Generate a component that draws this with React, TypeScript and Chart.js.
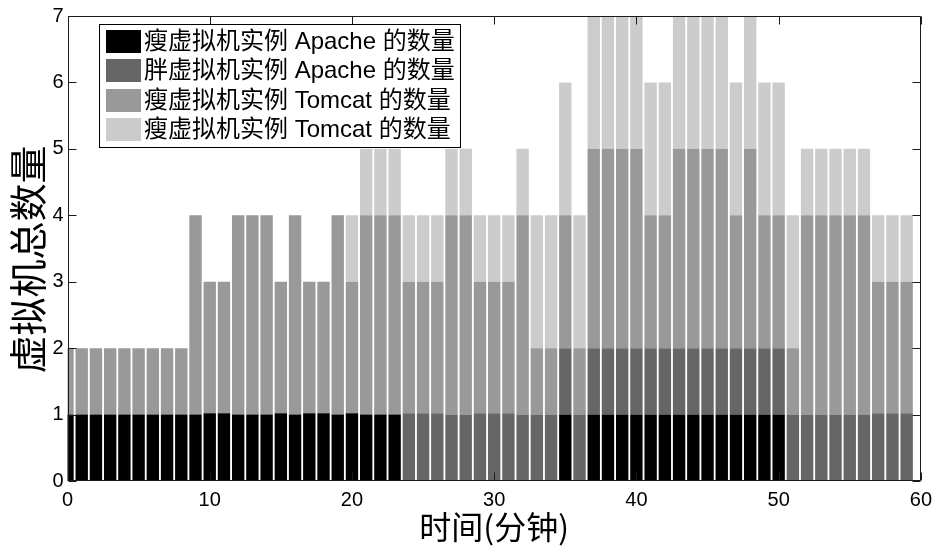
import React, { useEffect, useRef } from "react";
import { Chart, registerables } from "chart.js";

Chart.register(...registerables);

// ---- data ----
const minutes = [
  0, 1, 2, 3, 4, 5, 6, 7, 8, 9,
  10, 11, 12, 13, 14, 15, 16, 17, 18, 19,
  20, 21, 22, 23, 24, 25, 26, 27, 28, 29,
  30, 31, 32, 33, 34, 35, 36, 37, 38, 39,
  40, 41, 42, 43, 44, 45, 46, 47, 48, 49,
  50, 51, 52, 53, 54, 55, 56, 57, 58, 59,
];

// 瘦虚拟机实例 Apache (black)
const thinApache = [
  1, 1, 1, 1, 1, 1, 1, 1, 1, 1,
  1.02, 1.02, 1, 1, 1, 1.02, 1, 1.02, 1.02, 1,
  1.02, 1, 1, 1, 0, 0, 0, 0, 0, 0,
  0, 0, 0, 0, 0, 1, 0, 1, 1, 1,
  1, 1, 1, 1, 1, 1, 1, 1, 1, 1,
  1, 0, 0, 0, 0, 0, 0, 0, 0, 0,
];

// 胖虚拟机实例 Apache (dark gray)
const fatApache = [
  0, 0, 0, 0, 0, 0, 0, 0, 0, 0,
  0, 0, 0, 0, 0, 0, 0, 0, 0, 0,
  0, 0, 0, 0, 1.02, 1.02, 1.02, 1, 1, 1.02,
  1.02, 1.02, 1, 1, 1, 1, 1, 1, 1, 1,
  1, 1, 1, 1, 1, 1, 1, 1, 1, 1,
  1, 1, 1, 1, 1, 1, 1, 1.02, 1.02, 1.02,
];

// 瘦虚拟机实例 Tomcat (medium gray)
const thinTomcat = [
  1, 1, 1, 1, 1, 1, 1, 1, 1, 3,
  1.98, 1.98, 3, 3, 3, 1.98, 3, 1.98, 1.98, 3,
  1.98, 3, 3, 3, 1.98, 1.98, 1.98, 3, 3, 1.98,
  1.98, 1.98, 3, 1, 1, 2, 1, 3, 3, 3,
  3, 2, 2, 3, 3, 3, 3, 2, 3, 2,
  2, 1, 3, 3, 3, 3, 3, 1.98, 1.98, 1.98,
];

// 瘦虚拟机实例 Tomcat (light gray)
const thinTomcatB = [
  0, 0, 0, 0, 0, 0, 0, 0, 0, 0,
  0, 0, 0, 0, 0, 0, 0, 0, 0, 0,
  1, 1, 1, 1, 1, 1, 1, 1, 1, 1,
  1, 1, 1, 2, 2, 2, 2, 2, 2, 2,
  2, 2, 2, 2, 2, 2, 2, 2, 2, 2,
  2, 2, 1, 1, 1, 1, 1, 1, 1, 1,
];

const seriesLabels = [
  "瘦虚拟机实例 Apache 的数量",
  "胖虚拟机实例 Apache 的数量",
  "瘦虚拟机实例 Tomcat 的数量",
  "瘦虚拟机实例 Tomcat 的数量",
];
const seriesColors = ["#000000", "#666666", "#999999", "#cccccc"];
const seriesValues = [thinApache, fatApache, thinTomcat, thinTomcatB];

const xTicks = [0, 10, 20, 30, 40, 50, 60];
const yTicks = [0, 1, 2, 3, 4, 5, 6, 7];
const xTitle = "时间(分钟)";
const yTitle = "虚拟机总数量";

const TICK_FONT = "'Liberation Sans', Arial, sans-serif";
const CJK_FONT = "'Noto Sans CJK SC', sans-serif";
const LEGEND_FONT = "24px 'Liberation Sans', 'Noto Sans CJK SC', sans-serif";
const Y_TITLE_FONT = "38px 'Noto Sans CJK SC', sans-serif";

const framePlugin = {
  id: "frameAndLegend",
  afterDatasetsDraw(chart: any) {
    const { ctx, chartArea: a, scales } = chart;
    ctx.save();
    // axes box
    ctx.strokeStyle = "#1a1a1a";
    ctx.lineWidth = 1;
    const l = Math.round(a.left) + 0.5;
    const r = Math.round(a.right) - 0.5;
    const t = Math.round(a.top) + 0.5;
    const b = Math.round(a.bottom) - 0.5;
    ctx.beginPath();
    ctx.moveTo(l, t);
    ctx.lineTo(r, t);
    ctx.lineTo(r, b);
    ctx.lineTo(l, b);
    ctx.closePath();
    ctx.stroke();
    // inward ticks
    const L = 8;
    ctx.beginPath();
    for (const v of yTicks) {
      const y = Math.round(scales.y.getPixelForValue(v)) + 0.5;
      ctx.moveTo(l, y);
      ctx.lineTo(l + L, y);
      ctx.moveTo(r, y);
      ctx.lineTo(r - L, y);
    }
    for (const v of xTicks) {
      const x = Math.round(scales.x.getPixelForValue(v)) + 0.5;
      ctx.moveTo(x, b);
      ctx.lineTo(x, b - L);
      ctx.moveTo(x, t);
      ctx.lineTo(x, t + L);
    }
    ctx.stroke();

    // legend box
    const lx = Math.round(a.left + 31) + 0.5;
    const ly = Math.round(a.top + 8) + 0.5;
    const lw = 361;
    const lh = 123;
    ctx.fillStyle = "#ffffff";
    ctx.fillRect(lx, ly, lw, lh);
    ctx.strokeStyle = "#000000";
    ctx.strokeRect(lx, ly, lw, lh);
    ctx.font = LEGEND_FONT;
    ctx.textBaseline = "middle";
    ctx.textAlign = "left";
    const rowH = 29.6;
    for (let i = 0; i < seriesLabels.length; i++) {
      const cy = ly + 16.5 + i * rowH;
      ctx.fillStyle = seriesColors[i];
      ctx.fillRect(Math.round(lx + 6.5), Math.round(cy - 11.5), 35, 23);
      ctx.fillStyle = "#000000";
      ctx.fillText(seriesLabels[i], lx + 44.5, cy + 1);
    }

    // y axis title (rotated, reads bottom to top)
    ctx.translate(27.5, (a.top + a.bottom) / 2 + 11);
    ctx.rotate(-Math.PI / 2);
    ctx.font = Y_TITLE_FONT;
    ctx.textAlign = "center";
    ctx.textBaseline = "middle";
    ctx.fillStyle = "#000000";
    ctx.fillText(yTitle, 0, 0);
    ctx.restore();
  },
};

export default function App() {
  const canvasRef = useRef<HTMLCanvasElement | null>(null);

  useEffect(() => {
    const canvas = canvasRef.current;
    if (!canvas) return;
    const datasets = seriesValues.map((vals, k) => ({
      label: seriesLabels[k],
      data: minutes.map((m, i) => ({ x: m, y: vals[i] })),
      backgroundColor: seriesColors[k],
      borderWidth: 0,
      barPercentage: 0.87,
      categoryPercentage: 1,
      clip: 0,
    }));
    const chart = new Chart(canvas, {
      type: "bar",
      data: { datasets } as any,
      plugins: [framePlugin],
      options: {
        responsive: false,
        animation: false,
        events: [],
        devicePixelRatio: 1,
        layout: { padding: { left: 0, top: 13, right: 15, bottom: 0 } },
        plugins: {
          legend: { display: false },
          tooltip: { enabled: false },
        },
        scales: {
          x: {
            type: "linear",
            stacked: true,
            min: 0,
            max: 60,
            offset: false,
            grid: { display: false, drawTicks: false },
            border: { display: false },
            afterBuildTicks: (s: any) => {
              s.ticks = xTicks.map((v) => ({ value: v }));
            },
            afterFit: (s: any) => {
              s.height = 69;
            },
            ticks: {
              color: "#000000",
              font: { family: TICK_FONT, size: 20 },
              padding: 7,
              maxRotation: 0,
              autoSkip: false,
            },
            title: {
              display: true,
              text: xTitle,
              color: "#000000",
              font: { family: CJK_FONT, size: 32 },
              padding: { top: 0, bottom: 4 },
            },
          },
          y: {
            type: "linear",
            stacked: true,
            min: 0,
            max: 7,
            grid: { display: false, drawTicks: false },
            border: { display: false },
            afterBuildTicks: (s: any) => {
              s.ticks = yTicks.map((v) => ({ value: v }));
            },
            afterFit: (s: any) => {
              s.width = 67.5;
            },
            ticks: {
              color: "#000000",
              font: { family: TICK_FONT, size: 20 },
              padding: 4,
            },
            title: { display: false },
          },
        },
      } as any,
    });
    return () => chart.destroy();
  }, []);

  return (
    <div style={{ position: "absolute", left: 0, top: 0, width: 939, height: 550, background: "#ffffff" }}>
      <canvas ref={canvasRef} width={939} height={550} style={{ display: "block" }} />
    </div>
  );
}
